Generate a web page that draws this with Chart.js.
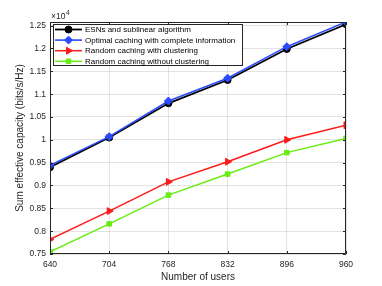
<!DOCTYPE html>
<html>
<head>
<meta charset="utf-8">
<script src="https://cdn.jsdelivr.net/npm/chart.js@4/dist/chart.umd.min.js"></script>
<style>
  html, body { margin: 0; padding: 0; background: #fff; }
  canvas { display: block; }
</style>
</head>
<body>
<canvas id="cap_chart" width="382" height="286"></canvas>
<script>
// data (y values in units of 10^4 bits/s/Hz, as on the axis)
const users = [640, 704, 768, 832, 896, 960];
const esnVals = [0.940, 1.005, 1.080, 1.131, 1.199, 1.253];
const optimalVals = [0.944, 1.007, 1.085, 1.135, 1.204, 1.258];
const clusterVals = [0.782, 0.844, 0.908, 0.952, 1.000, 1.032];
const noClusterVals = [0.755, 0.816, 0.879, 0.925, 0.972, 1.003];
const seriesNames = ["ESNs and sublinear algorithm", "Optimal caching with complete information", "Random caching with clustering", "Random caching without clustering"];
const xTicks = [640, 704, 768, 832, 896, 960];
const yTicks = [0.75, 0.8, 0.85, 0.9, 0.95, 1, 1.05, 1.1, 1.15, 1.2, 1.25];

const FONT = "'Liberation Sans', Arial, Helvetica, sans-serif";
const AXIS_COLOR = '#262626';

const toPts = vals => vals.map((v, i) => ({x: users[i], y: v}));

//dataset styles
const styles = [
  {color: '#000000', pointStyle: 'circle', radius: 3.5, rotation: 0, order: 1, width: 1.8},
  {color: '#2b4bff', pointStyle: 'rectRot', radius: 4, rotation: 0, order: 0, width: 1.6},
  {color: '#ff1a1a', pointStyle: 'triangle', radius: 4, rotation: 90, order: 2, width: 1.5},
  {color: '#66ee11', pointStyle: 'rect', radius: 3.2, rotation: 0, order: 3, width: 1.5}
];
const allVals = [esnVals, optimalVals, clusterVals, noClusterVals];

const datasets = allVals.map((vals, i) => ({
  label: seriesNames[i],
  data: toPts(vals),
  borderColor: styles[i].color,
  backgroundColor: styles[i].color,
  borderWidth: styles[i].width,
  pointStyle: styles[i].pointStyle,
  pointRadius: styles[i].radius,
  pointRotation: styles[i].rotation,
  pointBorderWidth: 1,
  order: styles[i].order,
  tension: 0
}));

//------------------------------------------
//axis box, inward ticks, x10^4 label and legend
const matlabBox = {
  id: 'matlabBox',
  afterDraw(chart) {
    const {ctx, chartArea: {left, right, top, bottom}, scales: {x, y}} = chart;
    ctx.save();
    ctx.strokeStyle = AXIS_COLOR;
    ctx.lineWidth = 1;
    ctx.beginPath();
    ctx.rect(left + 0.5, top + 0.5, right - left - 1, bottom - top - 1);
    ctx.stroke();

    // inward tick marks
    const tl = 3;
    ctx.beginPath();
    xTicks.forEach(v => {
      const px = Math.round(x.getPixelForValue(v)) + 0.5;
      ctx.moveTo(px, bottom); ctx.lineTo(px, bottom - tl);
      ctx.moveTo(px, top); ctx.lineTo(px, top + tl);
    });
    yTicks.forEach(v => {
      const py = Math.round(y.getPixelForValue(v)) + 0.5;
      ctx.moveTo(left, py); ctx.lineTo(left + tl, py);
      ctx.moveTo(right, py); ctx.lineTo(right - tl, py);
    });
    ctx.stroke();

    // exponent label
    ctx.fillStyle = AXIS_COLOR;
    ctx.textBaseline = 'middle';
    ctx.textAlign = 'left';
    ctx.font = '8.5px ' + FONT;
    ctx.fillText('\u00d710', left + 1, top - 5.5);
    const w = ctx.measureText('\u00d710').width;
    ctx.font = '6.5px ' + FONT;
    ctx.fillText('4', left + 1 + w + 0.5, top - 9);

    // legend box
    const lx = left + 3, ly = top + 2, lw = 190, lh = 42;
    ctx.fillStyle = '#ffffff';
    ctx.fillRect(lx, ly, lw, lh);
    ctx.strokeStyle = AXIS_COLOR;
    ctx.lineWidth = 1;
    ctx.strokeRect(lx + 0.5, ly + 0.5, lw - 1, lh - 1);

    ctx.font = '8px ' + FONT;
    seriesNames.forEach((name, i) => {
      const cy = ly + 5.5 + i * 10.6;
      const st = styles[i];
      ctx.strokeStyle = st.color;
      ctx.lineWidth = st.width;
      ctx.beginPath();
      ctx.moveTo(lx + 2, cy);
      ctx.lineTo(lx + 29, cy);
      ctx.stroke();
      ctx.fillStyle = st.color;
      ctx.lineWidth = 1;
      Chart.helpers.drawPoint(ctx, {pointStyle: st.pointStyle, radius: st.radius, rotation: st.rotation, borderWidth: 1}, lx + 15.5, cy);
      ctx.fillStyle = '#000000';
      ctx.textAlign = 'left';
      ctx.textBaseline = 'middle';
      ctx.fillText(name, lx + 32, cy + 0.5);
    });
    ctx.restore();
  }
};

//------------------------------------------
const gridCfg = {color: 'rgba(38,38,38,0.13)', drawTicks: false, lineWidth: 1};

const config = {
  type: 'line',
  data: {datasets: datasets},
  options: {
    responsive: false,
    devicePixelRatio: 1,
    animation: false,
    layout: {padding: {top: 22, right: 36, left: 0, bottom: 0}},
    plugins: {legend: {display: false}, tooltip: {enabled: false}},
    scales: {
      x: {
        type: 'linear',
        min: 640,
        max: 960,
        afterBuildTicks: s => { s.ticks = xTicks.map(v => ({value: v})); },
        afterFit: s => { s.height = 32; },
        grid: gridCfg,
        border: {display: false},
        ticks: {padding: 6, color: AXIS_COLOR, font: {size: 8.5, family: FONT}, maxRotation: 0, callback: v => String(v)},
        title: {display: true, text: 'Number of users', color: AXIS_COLOR, font: {size: 10, family: FONT}, padding: {top: 0, bottom: 3}}
      },
      y: {
        type: 'linear',
        min: 0.75,
        max: 1.258,
        afterBuildTicks: s => { s.ticks = yTicks.map(v => ({value: v})); },
        afterFit: s => { s.width = 50; },
        grid: gridCfg,
        border: {display: false},
        ticks: {padding: 4, color: AXIS_COLOR, font: {size: 8.5, family: FONT}, callback: v => String(Math.round(v * 100) / 100)},
        title: {display: true, text: 'Sum effective capacity (bits/s/Hz)', color: AXIS_COLOR, font: {size: 10, family: FONT}, padding: {top: 14.5, bottom: 0}}
      }
    }
  },
  plugins: [matlabBox]
};

//render
const capChart = new Chart(document.getElementById('cap_chart'), config);
</script>
</body>
</html>
